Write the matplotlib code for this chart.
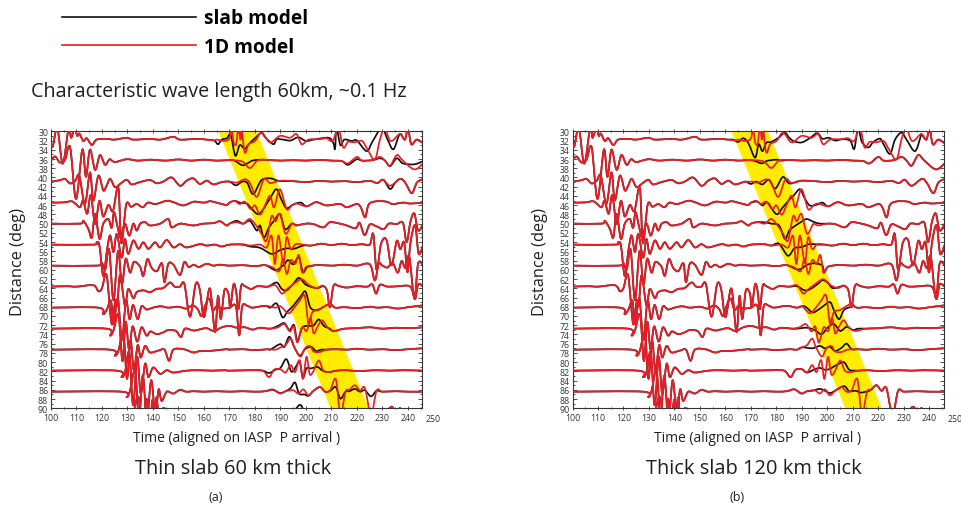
import numpy as np
import matplotlib
matplotlib.use("Agg")
import matplotlib.pyplot as plt
from matplotlib.lines import Line2D
from matplotlib.path import Path
from matplotlib.patches import PathPatch

plt.rcParams['font.family'] = ['Open Sans', 'DejaVu Sans']

# distance of each trace baseline (deg)
trace_dist = [31.8, 36.35, 40.9, 45.45, 50.0, 54.55, 59.1, 63.65, 68.2, 72.75, 77.3, 81.85, 86.4, 90.95]

# 1D model traces (same in both panels): (time s, amplitude in deg, up = positive)
red_1d = [
    [(100,-0.8),(100.7,-1.5),(102.5,2.5),(104.6,-5.2),(106.9,2.5),(107.9,0.4),(109.3,2.5),(110.3,0.8),(111.1,1.3),(112.7,-0.3),(114,0.3),(116,-1.15),(117.9,0),(121.8,0.15),(125,0),(129.7,0.4),(132.3,0),(138.8,0.15),(143,0),(148,0.6),(150.6,0),(157,0.15),(161,0),(164,-0.2),(165,0),(168,-0.3),(170,0.3),(170.8,2.5),(171.6,-0.5),(172.6,-1),(173.5,2.5),(174.3,0),(174.8,2.0),(176,-2.8),(177.5,-1.0),(180,-0.3),(182.6,1.5),(185.9,-0.6),(189.8,0.8),(193.7,0.4),(196.3,1.2),(198.3,-1.0),(201,0),(205.5,0.1),(208,0.3),(210.5,-0.3),(212.7,2.5),(214.6,-1.7),(216.5,-0.5),(219,-0.6),(222,-0.3),(224,-2.0),(227,-4.3),(229,0),(230.8,2.5),(232.7,0),(234,-0.2),(236.8,1.2),(238.8,0),(240,2.5),(241.3,-1.0),(243.4,0),(246,-0.8)],
    [(100,0),(101.6,0.9),(103.5,-0.4),(105.5,0.2),(107.5,2.9),(109.8,-8.3),(112.3,2.4),(113.7,-3.5),(115.3,2.4),(117.3,-2.0),(119.2,1.2),(121.2,-0.9),(123,0.3),(125,-0.3),(129.7,0.3),(134,0),(139,0.2),(145,0),(150,0.25),(155,0),(160,0.2),(165,0),(170,0.1),(175,-0.2),(178,-1.6),(181,0),(185,0.15),(190,0),(195,0.1),(200,0),(205,0.15),(210,0),(214,-0.1),(216.5,-0.6),(219.9,0.8),(222,0),(226,0.1),(229,0.8),(231,0),(233,-1.1),(235.6,1.2),(238,0),(242.5,-1.9),(246,-0.6)],
    [(100,0),(103.5,0.3),(105.5,0.6),(107.5,-0.4),(109.5,0.2),(111.1,1.3),(113.3,-4.8),(115.3,2.0),(116.6,-4.1),(118.6,1.3),(120.5,-1.9),(121.8,-0.9),(123.2,0.6),(125.1,-1.2),(127.1,-0.5),(129.7,0.4),(131.6,-0.6),(134.9,-0.1),(138.8,0.35),(141.4,-0.35),(144,0),(147.3,0.9),(150.6,-0.9),(153.2,0.2),(155.8,0.7),(158.4,-0.5),(161.1,0.2),(163.7,-0.6),(167,-0.1),(170,0),(173,-0.2),(176,0.5),(178,-0.3),(180.7,-3.3),(183.5,0.5),(186,-0.3),(190,0.2),(195,0.1),(200,-0.1),(205,0.15),(210,0),(215,0.1),(220,-0.1),(225,0.15),(228,-0.3),(230.3,0.4),(233,-0.9),(237,0.6),(239,-0.3),(241.5,-2.5),(243.5,-0.2),(246,0.6)],
    [(100,0),(105,0.05),(108,0.3),(109.5,-0.2),(111.4,-1.0),(112.6,0.4),(114.2,-2.4),(115.6,1.6),(117.3,-4.6),(119,0.4),(120.5,-3.0),(122.5,-0.5),(124.3,-1.8),(126.4,3.3),(127.6,-8.8),(129.5,-0.4),(131.4,-0.9),(133.6,-0.3),(136,-1.0),(138,0),(141,-0.3),(145.4,0.4),(148,0.1),(151.9,-0.6),(156,0.2),(160,0),(162.5,0.3),(166.3,-0.2),(168.9,-0.5),(170,0),(172,0.4),(174,-0.3),(176,0.2),(178.3,-1.4),(180,-0.6),(182,-2.6),(184,-0.5),(185.9,1.5),(187.5,-1.0),(189.8,2.9),(192.4,-1.4),(194.5,-0.6),(196.3,-0.2),(200.3,-0.8),(204,0.1),(208,-0.6),(213.3,-0.3),(216,-1.0),(219.9,-0.3),(221.5,-1.0),(223.2,-3.2),(224.6,-0.4),(227.7,0.3),(231.6,0.2),(234,-0.3),(238,0),(241,-0.2),(246,0)],
    [(100,0),(111.4,0),(112.7,0.6),(114.7,-1.2),(116,-3.0),(117.3,2.1),(119,-3.3),(120.5,0),(122.5,1.0),(123.8,-0.9),(124.7,2.5),(126,-0.4),(127.3,-3.0),(129,0),(130.7,-2.6),(132.3,0),(133.6,-1.5),(135,0),(137,0.3),(138.8,-0.4),(142.8,0),(146,1.0),(147.3,-0.8),(150.6,0),(155.8,-0.4),(159.7,0),(163.7,0.1),(166.3,0.5),(168.9,-0.4),(170,0),(172.8,0.3),(175.4,0),(178,1.0),(180.7,-0.6),(182.6,-2.2),(184.5,-3.7),(186.5,1.6),(188,0.5),(189.8,2.1),(192,-2.2),(194.4,-0.1),(196.3,-0.4),(200,0),(202.9,-0.1),(206.8,-0.8),(209.4,0.3),(213.3,0),(216,-0.4),(219.5,-1.0),(221,0.2),(223,-2.5),(225,-0.2),(227.7,-0.6),(230.5,-1.2),(232.5,0),(235.6,-0.1),(238,0.2),(239.5,-4.0),(241,0.5),(242.5,2.2),(244,-1.5),(246,0)],
    [(100,0),(116.6,0),(117.9,0.5),(119,-0.2),(120.5,-6.8),(122,-1.0),(123.2,2.0),(124.5,-1.6),(125.8,2.3),(127.7,-2.8),(129,1.2),(130.3,-2.0),(132.3,0.9),(134.3,-0.9),(136.2,0.5),(138.2,-0.9),(140.8,0.5),(142.8,-0.6),(145.4,1.0),(148,-0.6),(150.6,0.1),(153.2,-0.6),(158.4,0.1),(161,-0.2),(164.3,0),(167,-0.4),(170,0),(175,0.1),(178,-0.2),(182,0),(184.6,-0.6),(186.5,1.9),(187.8,-4.2),(189.2,2.0),(191.1,-4.0),(192.4,1.6),(194,-1.0),(196,0.1),(199,0),(202,-0.2),(206,0.2),(210,-0.1),(214,0.2),(218,-0.1),(222,0.1),(225,0),(226.4,2.3),(227.7,-5.5),(229.5,0.3),(231.6,1.0),(233.5,-4.5),(235.6,0.8),(237,-1.0),(238.5,0.5),(239.8,-6.0),(241,0.5),(242.8,4.2),(244.2,-2.0),(246,0)],
    [(100,0),(117.9,0),(119.9,0.6),(121.3,-0.8),(122.8,3.5),(124.5,-7.5),(126.3,3.2),(127.8,-4.0),(129.3,1.5),(131,-1.5),(132.5,0.8),(134.9,-0.2),(136.2,-2.2),(137.8,1.4),(139.5,-0.5),(141.5,-1.2),(143.5,0.5),(144.5,-3.6),(146,0.4),(148,0.2),(150.6,-2.0),(152.3,0.8),(154,-0.3),(156,0.2),(158,-0.3),(161,0.4),(163.7,0),(166,0.2),(170,0),(175,0.1),(180,-0.1),(184,0.1),(187,-0.4),(189.5,-1.2),(191,1.5),(192.5,-1.8),(194,1.2),(195.8,0.4),(197.2,2.3),(198.5,-1.5),(200,-0.3),(202,0),(205,0.15),(210,0),(215,0.2),(220,0),(225,0.3),(227,-3.2),(228.5,0.4),(230,0),(232,-0.4),(234,0.6),(236,-1.5),(237.5,1.0),(239,-0.5),(240.5,2.0),(242.5,-7.0),(244,0.5),(246,0)],
    [(100,0),(106,0.1),(110,0),(116.6,0.3),(118.6,-1.0),(120,-0.3),(121.8,2.5),(123.8,-8.1),(125.2,-3.0),(126,-4.0),(127.1,2.5),(129,-4.1),(130.3,-0.5),(132.3,-2.5),(133.6,-1.2),(136.2,-0.8),(138.8,-1.2),(141.4,-0.5),(144,-0.3),(146.7,0.9),(148.5,0),(150.5,0),(152.3,0.6),(154.5,-6.5),(156.7,0.5),(158.3,-0.5),(160,-6.6),(162.3,-0.4),(164.3,-9.8),(165.5,-2.0),(166.6,-7.0),(168,-0.8),(169.6,-1.5),(170.3,-4.5),(171.6,0.5),(172.6,-1.0),(173.5,-4.9),(174.6,0.2),(176,0.1),(178.5,-0.5),(181,0.1),(185,0),(188,0.3),(190.5,-1.5),(192.4,-0.6),(195,0.5),(198.3,1.6),(201,0.4),(204,-0.3),(206.5,0.2),(208.2,-0.8),(209.4,-4.5),(210.8,0.2),(213,0.1),(216,-0.2),(220,0.1),(224,0),(226,0.5),(227.5,-1.5),(229,0.4),(232,0),(236,0.1),(240,0.2),(241.5,-0.5),(242.8,-2.7),(244,0.5),(246,0)],
    [(100,0),(118.6,0),(120.5,-1.4),(122,-0.3),(123.5,1.5),(124.6,-3.5),(126.2,2.0),(127.8,-7.0),(129.4,1.5),(130.8,-2.5),(132.2,0.6),(134,-2.5),(135.5,0.3),(137.5,-0.4),(140,0),(143,0.3),(146,0),(150,0.2),(153,-0.2),(155.5,0.5),(157.5,-0.3),(159,-1.8),(160.5,0.5),(162,2.0),(163.5,-0.5),(165,0.3),(167,-0.2),(170,0),(172.5,0.3),(173.8,-6.0),(175,0.3),(177,0.4),(179,0),(184,0.4),(188,0),(190,0.3),(193,-1.2),(195,-0.3),(197.5,1.5),(199.5,2.6),(201,-3.5),(202.5,-1.0),(205,-0.5),(207,0.2),(209.4,0.8),(211.5,0),(215,0.1),(220,-0.1),(225,0.2),(228,0),(232,0.1),(236,-0.2),(240,0.1),(246,0.5)],
    [(100,0),(121.8,0),(123.2,-1.5),(124.5,-0.4),(126.5,3.0),(128,-7.0),(129.3,1.5),(130.6,-4.5),(132,0.5),(133.8,-2.8),(135.5,0.3),(137.5,-1.5),(139,-0.6),(141.5,-1.2),(144,-0.8),(146,-0.3),(149,-0.5),(151,-1.8),(152.5,0),(155.8,-0.4),(158,-0.2),(161,0.1),(164,-0.5),(167,0.3),(170,0.6),(173,0.2),(176,0.3),(179,-0.2),(182,0.2),(186,0),(189,0.3),(191.5,1.0),(193.7,-0.6),(195.2,0.5),(196.6,-3.0),(198.5,0.3),(200.3,-0.5),(201.8,2.4),(203,-1.0),(204.5,0.4),(206.3,1.8),(208.5,0.2),(211,-0.5),(215,0),(220,0.1),(225,0.3),(230,0),(235,0.2),(240,0.1),(246,0.3)],
    [(100,0),(123.2,0),(125.1,-1.3),(126.4,-0.3),(128.4,3.5),(129.8,-6.3),(131.2,2.0),(132.5,-4.5),(134,1.0),(135.2,-1.7),(136.9,0.8),(138.8,-0.6),(142.1,-0.2),(144.5,0),(146.3,-2.4),(148,0),(152,0.1),(155.8,-0.6),(158.4,-0.3),(161,-0.3),(163.7,-0.2),(168.9,0.1),(170,0),(175,0.1),(180,-0.1),(185,0.1),(188,0),(190,0.5),(192,1.0),(194,2.4),(195.5,0.5),(197.8,-1.5),(199.6,0.3),(201.6,0.8),(203,-0.4),(205.5,-0.5),(208,0),(212,0.1),(216,0),(220,0.2),(225,0),(230,0.1),(235,-0.1),(240,0.1),(246,0.3)],
    [(100,0),(125.8,0),(127.7,-1.4),(129,-0.4),(130.7,4.0),(132.2,-7.5),(133.8,3.0),(135.2,-5.0),(136.9,1.5),(138.2,-1.4),(140.1,0.7),(142.8,-0.7),(145.4,0.1),(148,-0.4),(153.2,0),(158,0.1),(163,0),(168,0.1),(170,0),(178,0.1),(183,0),(185.5,-1.4),(187.5,0.2),(190,0.3),(192,-0.4),(194,1.2),(195.7,-0.3),(197.5,2.3),(198.8,-1.8),(200.2,3.0),(201.5,-0.8),(203,0),(205,2.2),(206.8,0),(209,-0.3),(212,0),(216,0.1),(220,-0.1),(224,0),(228,0.1),(233,0),(238,0.1),(246,0)],
    [(100,0),(127.7,0),(129.7,-1.2),(131,0.2),(133,4.5),(134.5,-6.0),(136,3.5),(137.6,-6.0),(139.3,2.5),(140.9,-5.0),(142.2,0.5),(143.4,-2.0),(145.4,0),(148,-0.4),(150.6,0.4),(153,0),(156,0.1),(160,0),(165,0.1),(170,0),(175,0.1),(180,0),(184,0.1),(187,0.5),(189.8,-0.4),(192,0.1),(195,0.3),(197,-0.4),(199,0.5),(200.9,-0.8),(203,0.2),(205.5,1.0),(207.5,0),(209.5,0.3),(211.7,2.7),(213.5,-5.0),(215.5,0),(217,0.4),(219.2,1.4),(221.2,0.2),(223.1,0.8),(225.5,-5.0),(227.7,0.2),(230,0),(235,0.1),(240,0),(246,0)],
    [(100,0),(130,0),(132,-0.5),(134.2,3.5),(136,-3.0),(137.5,3.0),(138.7,-3.0),(139.8,2.8),(140.6,-1.0),(141.4,3.3),(142.5,-2.0),(144,1.0),(146,0),(150,0.3),(160,0),(190,0),(195,0.3),(197.5,0.5),(200,0),(210,0),(220,0),(230,0),(233.6,1.3),(235,0),(236.9,1.0),(238,0),(246,0)],
]

# slab model, thin slab: where it departs from the 1D trace
slab_thin = [
    [(164,-0.2),(165.5,-1.0),(167,0),(169,0.3),(170.5,1.0),(172.3,-3.5),(174,-1.2),(176,-2.0),(177.5,-1.0),(180,0.3),(182.6,1.5),(184,0.5),(187.2,-1.0),(188.5,0.1),(191,0.0),(194,-0.2),(197,0.5),(200,-0.3),(203,0),(208.8,0.4),(210.7,-0.7),(211.4,-2.0),(212.0,2.5),(213.5,-1.2),(215,0),(218,-0.3),(220,-0.2),(223.8,-2.5),(226,-0.5),(229.7,2.5),(232,0),(234.3,-2.1),(236.8,1.2)],
    [(170,0.1),(172,0),(175,-1.0),(177,-0.6),(179,0),(182,0.2),(185,0.15),(190,0),(195,0.1),(200,0),(205,0.15),(210,0),(214,-0.1),(216.5,-0.9),(219.9,0.3),(222,0),(226,0.1),(229,0.5),(231,0),(233,-1.2),(235.6,0.5),(238,-0.6),(242.5,-0.8),(246,-0.1)],
    [(170,0),(172.5,-0.8),(175,0),(177,-0.3),(179.3,-2.7),(182.5,0.3),(186,0.7),(189,0.2),(192,0.1),(195,0.1),(200,-0.1),(205,0.15),(210,0),(215,0.1),(220,-0.1),(225,0.15),(228,-0.3),(230.3,0.4),(233,-1.6),(235,-0.2),(237,0.6)],
    [(174,0),(176.7,-0.2),(178.5,-1.2),(181.3,-2.5),(184,-0.8),(186.5,1.5),(188.5,2.9),(190.5,0.5),(192.4,-1.2),(195,-0.4),(198,0)],
    [(170,0),(172.8,0.6),(175.4,0),(178,0.6),(180.7,-1.5),(182,-0.4),(183.5,-3.0),(185.5,-0.8),(187.5,0.6),(189.8,2.1),(191.8,-1.2),(194.4,0),(196,-0.3)],
    [(170,0),(175,0),(178,-0.4),(182,-0.7),(186.5,-2.0),(189.8,-1.2),(192.5,-0.8),(195.2,-0.9),(199,-0.2),(202,-0.2)],
    [(184,0.1),(186.5,-0.6),(188.5,-1.0),(191.5,0.3),(193,1.2),(195,0.3),(197.2,1.8),(198.8,-1.4),(200.5,-0.3),(203,0)],
    [(185,0),(188.5,0.9),(190.5,-0.5),(192.4,-0.8),(195,0.6),(197.3,1.9),(200,0.4),(204,-0.3),(206,0)],
    [(184,0.4),(186,0),(188.5,0.9),(190.8,-2.1),(192.8,-0.8),(195,0.4),(198,2.5),(199.8,3.5),(201.5,0.3),(203,-0.5),(205,-0.4)],
    [(186,0),(189,0.6),(191.5,1.2),(193.5,-0.3),(195.3,0.8),(196.6,-2.6),(198.5,0.2),(200.5,0.6),(203,0.7),(205,2.0),(207,0.6),(209,0.1),(211,-0.5)],
    [(186,0),(189.8,1.2),(191.5,0.6),(193.5,2.8),(195.5,0.4),(197.6,-1.3),(199.6,0.1),(202,0.6),(204,-0.3),(206,0)],
    [(183,0),(185.5,-0.5),(188,0.2),(190,0.6),(192.3,2.5),(194.3,-0.2),(196,0.8),(197.5,2.0),(198.8,-1.5),(200.2,0.5),(202,0.5),(204.5,0.8),(206.5,0),(209,-0.3)],
    [(184,0.1),(187,0.4),(189.8,-0.3),(192,0.1),(194,0.8),(195.7,2.0),(197.3,-0.4),(199.5,-0.6),(201,-0.9),(203,0.2),(205.5,1.0),(207.5,0),(209.5,0.2),(211.7,1.0),(213.5,-1.5),(215.5,0),(217,0.1),(219.2,0.6),(221.2,0),(223.1,0.3),(225.5,-1.0),(227.7,0.2)],
    [(190,0),(195,0.4),(197.7,1.7),(199.5,0.2),(202,0)],
]

# slab model, thick slab
slab_thick = [
    [(163,0),(165,-0.5),(167,0.3),(169,-0.8),(171.6,-3.9),(173,-1.0),(174.5,-2.5),(176,-0.7),(178,-0.5),(181,0.5),(183.3,1.5),(185,0.4),(187,-0.4),(190,-0.6),(193,0.3),(196,1.4),(198,0.2),(200.5,0.4),(203,-0.2),(206.2,0.1),(209,-0.3),(210.5,-2.0),(212,2.5),(213.5,-0.5),(216,-1.7),(218,-0.5),(220.6,0.2),(222,-1.0),(224.5,-3.1),(226.5,0),(229,1.5),(231,0),(234.3,-2.5),(236.5,0.6)],
    [(168,0.1),(171,0),(174.2,-0.6),(176,-0.1),(178,0.1),(180,0.2),(182,0)],
    [(168,0),(170,-0.5),(172,0),(174.5,-0.6),(177,0.4),(179.5,-1.5),(182.5,1.0),(185,-0.4),(188,0),(190,0.2)],
    [(170,0),(172.5,0.2),(174.5,-0.6),(176.5,0),(180,-2.5),(182.5,-1.0),(185,0.6),(187,1.7),(189.2,2.9),(191,1.0),(193,-0.6),(195.5,-0.5),(198,0)],
    [(172,0.3),(175,0.3),(178,0),(181,-0.4),(183.3,-3.3),(185,-1.5),(187,-0.6),(189.5,0.3),(191.8,1.0),(194.5,0.4),(197,0)],
    [(178,-0.2),(181,0.2),(184.5,-2.4),(187,-0.8),(190,-0.5),(193,0.1),(197,0),(199,0)],
    [(184,0.1),(188,-0.8),(190,-0.6),(192,0.2),(195,0.5),(198,0)],
    [(185,0),(188,0.1),(191,-0.8),(193,-0.6),(196,0.5),(198,1.4),(200,0.9),(202,-0.3),(205,0)],
    [(188,0),(191,0.3),(194,-1.0),(196,-0.6),(198.5,0.4),(201,1.2),(202.5,-0.5),(204.5,-2.5),(206.5,-0.5),(209,0.2)],
    [(188,0),(192,0.2),(195,-0.3),(197.7,-1.2),(200,0.2),(202.5,1.0),(205,-0.5),(207.5,0.4),(210,-0.3),(212,0)],
    [(190,0.5),(194,0.3),(197,0.8),(199,0.3),(201,0.6),(203,-0.3),(205.5,0.4),(207.5,1.3),(209.5,0.1),(212,0.1),(214,0)],
    [(192,-0.4),(195,0.3),(197,0.6),(199,0.2),(201,0.4),(203.5,1.2),(206.5,1.8),(208.5,0.2),(211,0)],
    [(194,0.2),(197,0.6),(199,0.2),(201,-0.3),(203,0.2),(206.5,1.2),(208.5,0.1),(211,0.2),(213,-0.2),(215,0)],
    [],
]

# yellow window (time at 30 deg and at 90 deg)
band_dist = [30, 90]
band_thin_left, band_thin_right = [165.5, 209.5], [180.5, 224.5]
band_thick_left, band_thick_right = [162.2, 206.9], [176.6, 221.2]

panel_titles = ["Thin slab 60 km thick", "Thick slab 120 km thick"]
panel_tags = ["(a)", "(b)"]

RED = '#ec1c24'
YELLOW = '#ffec00'
INK = '#231f20'


def merge(base, diff):
    if not diff:
        return base
    t0, t1 = diff[0][0], diff[-1][0]
    return [p for p in base if p[0] < t0] + diff + [p for p in base if p[0] > t1]


def smooth_path(t, y):
    # cubic bezier through the read points (catmull-rom tangents)
    p = np.column_stack([t, y])
    q = np.vstack([p[0], p, p[-1]])
    verts = [p[0]]
    codes = [Path.MOVETO]
    for i in range(1, len(q) - 2):
        c1 = q[i] + (q[i + 1] - q[i - 1]) / 6
        c2 = q[i + 1] - (q[i + 2] - q[i]) / 6
        verts += [c1, c2, q[i + 1]]
        codes += [Path.CURVE4] * 3
    return Path(verts, codes)


def draw_trace(ax, pts, base, color, z):
    t, a = zip(*pts)
    path = smooth_path(np.array(t, float), base - np.array(a, float))
    ax.add_patch(PathPatch(path, fill=False, edgecolor=color, lw=1.25, zorder=z,
                           joinstyle='round', capstyle='round'))


fig = plt.figure(figsize=(9.62, 5.10), dpi=100)
axes = [fig.add_axes([51/962, 100.7/510, 371/962, 277/510]),
        fig.add_axes([572.5/962, 100.7/510, 371/962, 277/510])]

for k, ax in enumerate(axes):
    slab = slab_thin if k == 0 else slab_thick
    bl, br = (band_thin_left, band_thin_right) if k == 0 else (band_thick_left, band_thick_right)
    ax.fill_betweenx(band_dist, bl, br, color=YELLOW, lw=0, zorder=1)
    for i, d in enumerate(trace_dist):
        draw_trace(ax, merge(red_1d[i], slab[i]), d, '#111111', 2)
        draw_trace(ax, red_1d[i], d, RED, 3)

    ax.set_xlim(100, 245.5)
    ax.set_ylim(90, 30)
    ax.set_xticks(np.arange(100, 241, 10))
    ax.set_xticks(np.arange(100, 246, 5), minor=True)
    ax.set_yticks(np.arange(30, 91, 2))
    ax.set_yticks(np.arange(30, 91, 1), minor=True)
    ax.tick_params(which='both', direction='in', top=True, right=True, width=0.6,
                   colors='#333333', labelsize=6.3, pad=2)
    ax.tick_params(which='major', length=3)
    ax.tick_params(which='minor', length=1.6)
    ax.tick_params(axis='x', which='both', direction='inout')
    ax.annotate('250', xy=(250, 0), xycoords=('data', 'axes fraction'), xytext=(0, -4),
                textcoords='offset points', ha='center', va='top', fontsize=6.3,
                color='#333333', annotation_clip=False)
    for s in ax.spines.values():
        s.set_linewidth(0.8)
        s.set_color('#333333')
    ax.set_xlabel("Time (aligned on IASP  P arrival )", fontsize=10, color=INK, labelpad=6)
    ax.set_ylabel("Distance (deg)", fontsize=11.8, color=INK)
    ax.yaxis.set_label_coords(-0.067, 0.53)

    cx = (ax.get_position().x0 + ax.get_position().x1) / 2
    fig.text(cx - 0.004, 1 - 469/510, panel_titles[k], ha='center', va='center',
             fontsize=14.4, color=INK)
    fig.text(cx - 0.022, 1 - 498/510, panel_tags[k], ha='center', va='center',
             fontsize=9, color=INK)

fig.text(31/962, 1 - 92/510, "Characteristic wave length 60km, ~0.1 Hz", ha='left', va='center',
         fontsize=14.2, color=INK)

handles = [Line2D([], [], color='#111111', lw=1.2), Line2D([], [], color=RED, lw=1.2)]
fig.legend(handles, ["slab model", "1D model"], loc='upper left', bbox_to_anchor=(45/962, 1 + 8/510),
           frameon=False, handlelength=7.0, labelspacing=0.45, handletextpad=0.42,
           prop={'weight': 'bold', 'size': 13.8})

fig.savefig("out.png", dpi=100)
